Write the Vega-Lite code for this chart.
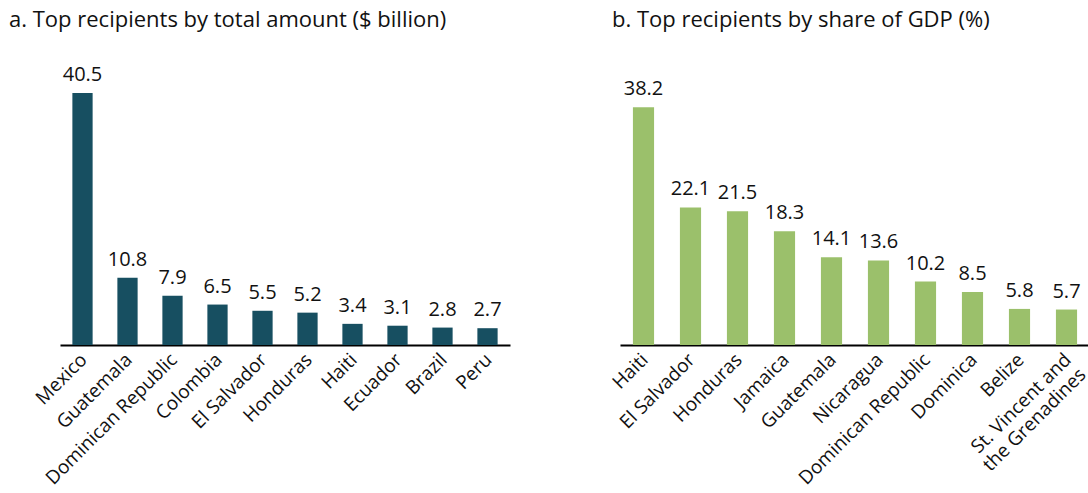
{
  "$schema": "https://vega.github.io/schema/vega-lite/v6.json",
  "autosize": {"type": "pad"},
  "padding": {"left": 9, "top": 8, "right": 0, "bottom": 0},
  "background": "white",
  "bounds": "flush",
  "spacing": 110,
  "config": {
    "font": "Open Sans",
    "view": {"stroke": null},
    "title": {"fontSize": 22, "fontWeight": "normal", "color": "#111111", "anchor": "start", "frame": "group", "offset": 33}
  },
  "datasets": {
    "amount": [
      {"country": "Mexico", "value": 40.5},
      {"country": "Guatemala", "value": 10.8},
      {"country": "Dominican Republic", "value": 7.9},
      {"country": "Colombia", "value": 6.5},
      {"country": "El Salvador", "value": 5.5},
      {"country": "Honduras", "value": 5.2},
      {"country": "Haiti", "value": 3.4},
      {"country": "Ecuador", "value": 3.1},
      {"country": "Brazil", "value": 2.8},
      {"country": "Peru", "value": 2.7}
    ],
    "share": [
      {"country": "Haiti", "value": 38.2},
      {"country": "El Salvador", "value": 22.1},
      {"country": "Honduras", "value": 21.5},
      {"country": "Jamaica", "value": 18.3},
      {"country": "Guatemala", "value": 14.1},
      {"country": "Nicaragua", "value": 13.6},
      {"country": "Dominican Republic", "value": 10.2},
      {"country": "Dominica", "value": 8.5},
      {"country": "Belize", "value": 5.8},
      {"country": "St. Vincent and the Grenadines", "value": 5.7}
    ]
  },
  "hconcat": [
    {
      "title": {"text": "a. Top recipients by total amount ($ billion)", "dx": -51},
      "width": 450,
      "height": 280,
      "data": {"name": "amount"},
      "encoding": {
        "x": {"field": "country", "type": "nominal", "sort": null, "scale": {"paddingInner": 0.55, "paddingOuter": 0.275},
          "axis": {"title": null, "labelAngle": -45, "labelFontSize": 19, "labelColor": "#111111", "labelLimit": 400, "labelOffset": -5, "domainColor": "#000000", "domainWidth": 2, "ticks": false, "labelPadding": 5}},
        "y": {"field": "value", "type": "quantitative", "scale": {"domain": [0, 45]}, "axis": null}
      },
      "layer": [
        {"mark": {"type": "bar", "color": "#174f61"}},
        {"mark": {"type": "text", "baseline": "bottom", "dy": -8, "fontSize": 20, "color": "#111111"}, "encoding": {"text": {"field": "value", "type": "quantitative", "format": ".1f"}}}
      ]
    },
    {
      "title": {"text": "b. Top recipients by share of GDP (%)", "dx": -8},
      "width": 470,
      "height": 280,
      "data": {"name": "share"},
      "encoding": {
        "x": {"field": "country", "type": "nominal", "sort": null, "scale": {"paddingInner": 0.55, "paddingOuter": 0.275},
          "axis": {"title": null, "labelAngle": -45, "labelFontSize": 19, "labelColor": "#111111", "labelLimit": 400, "labelOffset": -5, "domainColor": "#000000", "domainWidth": 2, "ticks": false, "labelPadding": 5,
            "labelExpr": "datum.label == 'St. Vincent and the Grenadines' ? ['St. Vincent and', 'the Grenadines'] : datum.label"}},
        "y": {"field": "value", "type": "quantitative", "scale": {"domain": [0, 45]}, "axis": null}
      },
      "layer": [
        {"mark": {"type": "bar", "color": "#9bc06b"}},
        {"mark": {"type": "text", "baseline": "bottom", "dy": -8, "fontSize": 20, "color": "#111111"}, "encoding": {"text": {"field": "value", "type": "quantitative", "format": ".1f"}}}
      ]
    }
  ]
}
